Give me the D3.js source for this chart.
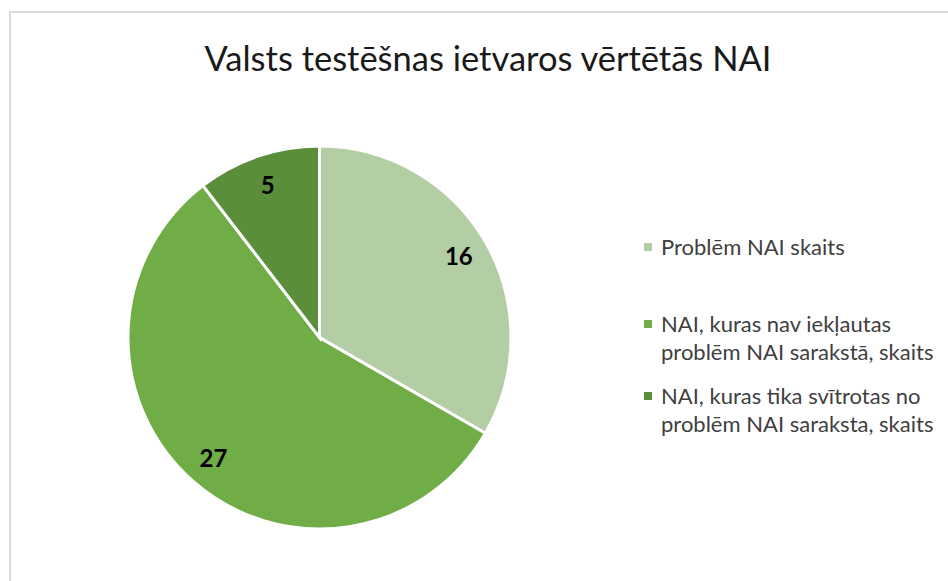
<!DOCTYPE html>
<html>
<head>
<meta charset="utf-8">
<script src="https://cdn.jsdelivr.net/npm/d3@7"></script>
<style>
  body { margin: 0; background: #fff; }
  svg { display: block; font-family: Lato, "Open Sans", sans-serif; }
</style>
</head>
<body>
<div id="chart"></div>
<script>
const title = "Valsts testēšnas ietvaros vērtētās NAI";
const categories = [
  "Problēm NAI skaits",
  "NAI, kuras nav iekļautas problēm NAI sarakstā, skaits",
  "NAI, kuras tika svītrotas no problēm NAI saraksta, skaits"
];
const legendLines = [
  ["Problēm NAI skaits"],
  ["NAI, kuras nav iekļautas", "problēm NAI sarakstā, skaits"],
  ["NAI, kuras tika svītrotas no", "problēm NAI saraksta, skaits"]
];
const values = [16, 27, 5];
const colors = ["#b3cea4", "#70ad47", "#5a8e3a"];

const width = 948, height = 581;
const cx = 319.5, cy = 337.5, radius = 191.5;

const svg = d3.select("#chart").append("svg")
  .attr("width", width)
  .attr("height", height);

// chart area frame
svg.append("rect")
  .attr("x", 10).attr("y", 12)
  .attr("width", 960).attr("height", 600)
  .attr("fill", "none")
  .attr("stroke", "#d9d9d9")
  .attr("stroke-width", 2);

svg.append("text")
  .attr("x", 488).attr("y", 71)
  .attr("text-anchor", "middle")
  .attr("font-size", 34.5)
  .attr("fill", "#1a1a1a")
  .text(title);

const color = d3.scaleOrdinal().domain(categories).range(colors);

const pie = d3.pie().sort(null).value(d => d.value);
const arcs = pie(categories.map((c, i) => ({ name: c, value: values[i] })));

const arc = d3.arc().innerRadius(0).outerRadius(radius);
const labelArc = d3.arc().innerRadius(radius * 0.84).outerRadius(radius * 0.84);

const g = svg.append("g").attr("transform", `translate(${cx},${cy})`);

g.selectAll("path")
  .data(arcs)
  .enter().append("path")
  .attr("d", arc)
  .attr("fill", d => color(d.data.name))
  .attr("stroke", "#fff")
  .attr("stroke-width", 3);

g.selectAll(".lbl")
  .data(arcs)
  .enter().append("text")
  .attr("class", "lbl")
  .attr("transform", d => `translate(${labelArc.centroid(d)})`)
  .attr("text-anchor", "middle")
  .attr("dy", "0.35em")
  .attr("font-size", 24)
  .attr("font-weight", "bold")
  .attr("fill", "#000")
  .text(d => d.data.value);

// legend
const legendY = [247, 324, 396];
const leg = svg.append("g");
const item = leg.selectAll("g")
  .data(categories)
  .enter().append("g")
  .attr("transform", (d, i) => `translate(644,${legendY[i]})`);

item.append("rect")
  .attr("x", 0).attr("y", -4)
  .attr("width", 8).attr("height", 8)
  .attr("fill", d => color(d));

item.each(function(d, i) {
  const t = d3.select(this).append("text")
    .attr("font-size", 22)
    .attr("fill", "#404040");
  legendLines[i].forEach((line, j) => {
    t.append("tspan")
      .attr("x", 17)
      .attr("y", j * 28)
      .attr("dy", "0.35em")
      .text(line);
  });
});
</script>
</body>
</html>
